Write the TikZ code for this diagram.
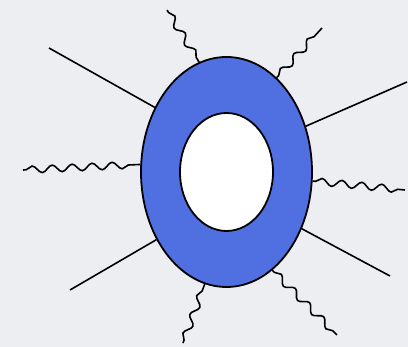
\documentclass[tikz,border=0pt]{standalone}
\usepackage{tikz}
\usetikzlibrary{shapes.geometric,decorations.pathmorphing}
\definecolor{bgray}{RGB}{237,238,242}
\definecolor{blobblue}{RGB}{80,112,226}

\begin{document}
\begin{tikzpicture}[
  x=1pt, y=1pt,
  blob/.style={ellipse, draw, line width=1.8pt, inner sep=0pt},
  leg/.style={line width=1.6pt},
  wavy/.style={line width=1.6pt, decorate,
    decoration={snake, amplitude=3.5pt, segment length=20pt, pre length=3pt, post length=3pt}}
]
\fill[bgray] (0,0) rectangle (408,347);
\useasboundingbox (0,0) rectangle (408,347);

\node[blob, fill=blobblue, minimum width=171pt, minimum height=230pt] (ring) at (226.5,175) {};
\node[blob, fill=white, minimum width=93pt, minimum height=118pt] (hole) at (226.5,175) {};

\coordinate (ul) at (49,299);
\coordinate (ll) at (70,57);
\coordinate (ur) at (407,265);
\coordinate (lr) at (390,71);
\coordinate (wl) at (23,177);
\coordinate (wr) at (405,157);
\coordinate (wtl) at (167,337);
\coordinate (wtr) at (322,319);
\coordinate (wbl) at (183,4);
\coordinate (wbr) at (337,12);

\draw[leg] (ul) -- (ring.138.6);
\draw[leg] (ll) -- (ring.224.4);
\draw[leg] (ring.30.4) -- (ur);
\draw[leg] (ring.-37) -- (lr);

\draw[wavy] (wl) -- (ring.175.4);
\draw[wavy] (ring.-6.7) -- (wr);
\draw[wavy] (wtl) -- (ring.104.6);
\draw[wavy] (ring.62.7) -- (wtr);
\draw[wavy] (wbl) -- (ring.-101.7);
\draw[wavy] (ring.-65.5) -- (wbr);
\end{tikzpicture}
\end{document}
